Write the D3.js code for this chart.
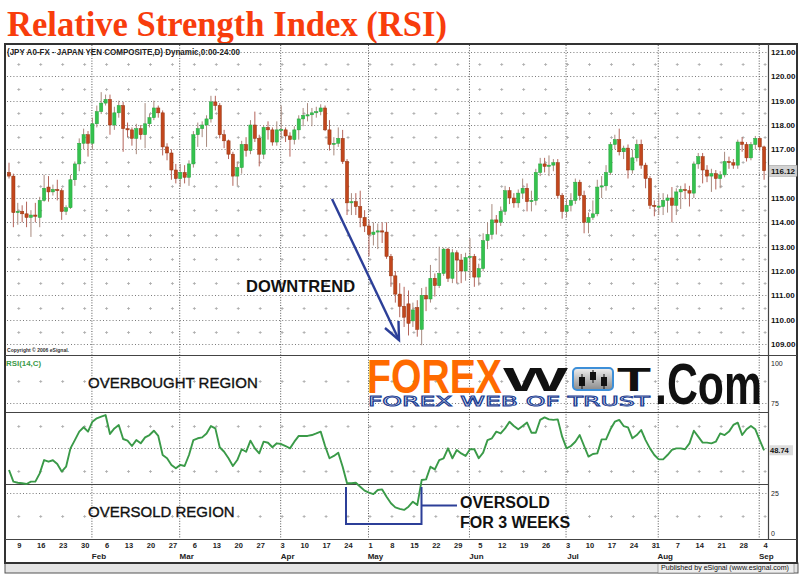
<!DOCTYPE html>
<html>
<head>
<meta charset="utf-8" />
<title>Relative Strength Index (RSI)</title>
<script src="https://d3js.org/d3.v7.min.js"></script>
<style>
  body { margin: 0; background: #fff; }
  svg { display: block; }
  text { font-family: "Liberation Sans", Arial, sans-serif; }
</style>
</head>
<body>
<svg id="chart" width="800" height="575"></svg>
<script>
// JPY daily candles, 5 Jan - 4 Sep 2006
const open = [
  116.05,115.9,114.4,114.45,114.35,114.2,114.3,114.2,114.9,115.45,
  115.25,115.35,115.3,114.45,114.6,115.75,116.4,117.25,117.6,117.25,
  118.05,118.55,118.9,119.05,118.0,118.5,118.8,117.85,117.8,117.45,
  117.85,117.6,118.05,118.3,118.7,118.5,117.1,116.85,116.15,115.8,
  116.05,115.85,116.4,117.6,117.85,118.0,118.25,118.95,118.8,117.6,
  117.35,116.8,115.9,116.25,117.2,116.95,118.0,117.45,116.8,117.9,
  117.8,117.3,117.8,117.8,117.55,117.4,117.8,118.25,118.4,118.42,
  118.5,118.55,118.7,117.8,117.2,117.25,117.45,116.5,114.8,114.85,
  114.65,114.2,113.85,113.5,113.6,113.65,113.6,112.6,111.8,111.05,
  110.55,110.65,109.95,110.5,109.6,111.0,110.85,111.7,111.4,111.9,
  112.9,111.7,112.75,112.45,112.0,112.55,112.6,111.75,112.1,113.25,
  113.5,114.1,114.0,114.45,115.3,115.0,114.8,115.2,115.4,114.85,
  114.9,116.05,116.4,116.3,116.35,116.45,115.1,114.45,114.7,114.9,
  115.65,115.1,114.0,114.2,114.35,115.45,115.5,116.05,117.2,117.4,
  116.9,117.05,116.15,116.65,117.2,116.35,115.8,114.7,114.65,114.65,
  114.9,115.0,114.7,115.25,115.35,115.3,115.2,116.4,116.7,116.15,
  115.9,116.0,115.8,115.95,116.5,116.45,116.35,117.3,117.2,116.65,
  117.2,117.45,117.1
]
const high = [
  116.45,116.0,114.8,114.7,114.85,114.5,114.8,115.05,115.95,115.9,
  115.55,115.75,115.4,114.7,115.95,116.5,117.45,117.85,117.75,118.3,
  118.8,119.35,119.25,119.25,118.75,119.0,118.95,118.1,117.9,118.05,
  118.0,118.9,118.45,119.0,118.8,118.6,117.25,117.0,116.4,116.4,
  116.35,116.55,117.75,118.1,118.15,118.4,119.2,119.2,118.9,117.8,
  117.4,116.9,116.5,117.35,117.5,118.2,118.55,117.6,118.0,118.15,
  117.9,118.15,118.8,117.9,117.7,117.95,118.4,118.7,118.9,118.7,
  118.75,118.85,118.8,118.2,117.5,117.9,117.8,116.6,115.2,115.2,
  115.3,114.5,114.1,114.0,113.95,114.0,114.0,112.7,112.0,111.5,
  111.35,111.2,110.7,110.8,111.3,111.35,112.25,111.9,113.0,112.95,
  112.95,112.9,112.85,112.7,112.75,113.35,112.7,112.3,113.55,114.0,
  114.75,114.3,114.65,115.5,115.45,115.2,115.35,115.8,115.6,115.3,
  116.2,116.65,116.65,116.75,116.6,116.6,115.2,114.95,115.2,115.8,
  115.75,115.3,114.4,114.9,115.75,115.9,116.35,117.3,117.6,117.85,
  117.15,117.2,117.0,117.4,117.4,116.45,115.9,114.9,115.2,115.2,
  115.15,115.45,115.4,115.5,115.6,115.5,116.5,116.85,116.85,116.35,
  116.2,116.15,116.1,116.9,116.7,116.6,117.4,117.5,117.3,117.3,
  117.55,117.5,117.15
]
const low = [
  115.8,113.8,113.9,114.0,113.8,113.4,114.0,113.8,114.85,114.85,
  115.1,114.9,114.1,114.3,114.55,115.5,116.1,117.0,116.7,117.0,
  117.9,118.45,118.8,117.6,117.8,118.3,116.9,117.5,117.15,116.8,
  117.4,117.05,117.9,118.2,118.3,116.75,116.55,115.75,115.6,115.45,
  115.6,115.5,116.25,117.1,117.5,117.1,118.1,118.6,117.45,117.05,
  116.6,115.5,115.5,116.0,116.7,116.8,117.3,116.3,116.6,117.4,
  117.15,117.15,117.45,117.3,116.7,117.2,117.4,117.95,118.15,117.95,
  118.3,118.4,117.75,116.95,116.75,117.1,116.4,114.3,114.3,114.3,
  113.8,113.6,112.6,113.05,112.9,113.15,112.5,111.35,110.7,110.1,
  109.7,109.35,109.7,109.3,108.95,110.35,110.7,110.95,111.3,111.8,
  111.55,111.5,111.5,111.5,111.6,111.7,111.35,111.4,112.0,112.9,
  113.3,113.5,113.85,114.3,114.75,114.6,114.6,115.0,114.45,114.45,
  114.7,115.9,116.05,115.9,116.1,115.0,114.15,114.2,114.45,114.75,
  114.9,113.55,113.55,114.1,114.25,115.0,115.3,115.95,117.0,116.75,
  116.6,115.8,116.0,116.5,116.2,115.4,114.55,114.25,114.3,114.3,
  114.4,114.0,114.3,114.55,114.95,114.65,115.0,116.2,115.6,115.65,
  115.25,115.35,115.4,115.85,116.2,116.2,116.2,116.9,116.5,116.55,
  117.0,116.95,115.75
]
const close = [
  115.9,114.4,114.45,114.35,114.2,114.3,114.25,114.9,115.4,115.25,
  115.35,115.3,114.45,114.6,115.75,116.4,117.25,117.6,117.25,118.05,
  118.55,118.9,119.05,118.0,118.5,118.8,117.85,117.8,117.45,117.85,
  117.6,118.05,118.3,118.7,118.5,117.1,116.85,116.15,115.8,116.05,
  115.85,116.4,117.6,117.85,118.0,118.25,118.95,118.8,117.6,117.35,
  116.8,115.9,116.25,117.2,116.95,118.0,117.45,116.8,117.9,117.8,
  117.3,117.8,117.82,117.55,117.4,117.8,118.25,118.4,118.42,118.5,
  118.55,118.7,117.8,117.2,117.25,117.45,116.5,114.8,114.85,114.65,
  114.2,113.85,113.5,113.6,113.65,113.6,112.6,111.8,111.05,110.55,
  110.1,109.85,110.4,109.6,111.0,110.85,111.7,111.4,111.9,112.9,
  111.7,112.75,112.45,112.0,112.55,112.6,111.75,112.1,113.25,113.5,
  114.1,114.0,114.45,115.3,115.0,114.8,115.2,115.4,114.85,114.9,
  116.05,116.4,116.3,116.35,116.45,115.1,114.45,114.7,114.9,115.65,
  115.1,114.0,114.2,114.35,115.45,115.5,116.05,117.2,117.4,116.9,
  117.05,116.15,116.65,117.2,116.35,115.8,114.7,114.65,114.67,114.9,
  115.0,114.7,115.25,115.35,115.3,115.2,116.4,116.7,116.15,115.9,
  116.0,115.8,115.95,116.5,116.45,116.35,117.3,117.2,116.65,117.2,
  117.45,117.1,116.12
]
// RSI(14,C)
const rsi = [
  37.8,31.3,30.7,30.4,30.0,31.3,31.3,35.9,43.3,42.4,
  43.2,41.1,36.9,39.6,49.8,54.4,59.1,61.5,59.1,64.6,
  66.5,67.4,68.3,57.8,60.9,62.8,55.0,54.1,51.1,54.4,
  52.6,55.9,57.2,59.6,56.7,46.1,44.3,40.6,38.7,40.6,
  40.0,46.1,54.4,55.4,55.9,58.1,62.2,60.9,50.4,47.9,
  44.3,40.0,43.3,49.3,47.9,54.1,49.8,47.0,53.5,52.9,
  50.4,52.6,52.2,51.1,49.8,53.5,56.7,56.7,56.7,57.2,
  58.1,59.1,51.1,44.3,45.6,47.4,39.6,30.4,30.4,30.7,
  28.5,26.3,25.2,24.4,26.7,27.0,22.9,19.3,17.0,16.2,
  15.6,17.4,20.2,18.3,32.2,32.6,39.6,38.1,43.3,44.3,
  49.8,44.3,48.9,47.0,45.6,49.3,49.3,44.3,47.4,54.4,
  55.4,59.1,58.1,60.9,64.6,62.2,60.4,62.2,64.1,58.5,
  58.5,65.6,67.0,65.9,65.6,65.9,56.3,49.8,51.1,53.5,
  57.2,51.1,45.2,46.7,47.0,54.8,54.8,60.4,64.6,65.6,
  62.2,61.5,55.4,57.2,60.0,54.4,49.8,46.1,43.7,43.7,
  46.1,48.9,49.8,49.8,49.3,52.6,59.6,56.3,53.0,53.0,
  52.6,53.5,58.1,57.2,59.1,62.8,64.1,57.2,60.4,62.2,
  60.4,54.4,48.74
]
const priceTicks = [109, 110, 111, 112, 113, 114, 115, 116, 117, 118, 119, 120, 121]
const rsiTicks = [0, 25, 75, 100]
const rsiGrid = [25, 50, 75]
const rsiLevels = [30, 70]

const svg = d3.select('#chart')
const n = close.length

// trading days (weekdays) from the first candle
const tradingDays = d3.timeDay
  .filter((d) => d.getDay() !== 0 && d.getDay() !== 6)
  .range(new Date(2006, 0, 5), new Date(2006, 8, 5))
const mondays = d3.range(n).filter((i) => tradingDays[i].getDay() === 1)
const monthStarts = d3
  .range(1, n)
  .filter((i) => tradingDays[i].getMonth() !== tradingDays[i - 1].getMonth())

const plotL = 6
const plotR = 768
const frameR = 797

const x = d3.scalePoint().domain(d3.range(n)).range([9, 764.1])
const yPrice = d3.scaleLinear().domain([109, 121]).range([344, 52])
const yRsi = d3.scaleLinear().domain([0, 100]).range([538, 358])

// title
svg.append('text')
  .attr('x', 7).attr('y', 36)
  .attr('textLength', 440).attr('lengthAdjust', 'spacingAndGlyphs')
  .style('font-family', '"Liberation Serif", "Times New Roman", serif')
  .style('font-weight', 'bold').style('font-size', '35px')
  .style('fill', '#f83d0c')
  .text('Relative Strength Index (RSI)')

// status bar under frame
svg.append('rect')
  .attr('x', 5).attr('y', 563).attr('width', 793).attr('height', 10)
  .style('fill', '#e4e4e4').style('stroke', '#555').style('stroke-width', 1)
svg.append('rect')
  .attr('x', 658).attr('y', 563).attr('width', 136).attr('height', 10)
  .style('fill', '#eee').style('stroke', '#777').style('stroke-width', 0.6)
svg.append('text')
  .attr('x', 661).attr('y', 570)
  .attr('textLength', 128).attr('lengthAdjust', 'spacingAndGlyphs')
  .style('font-size', '7.5px').style('fill', '#111')
  .text('Published by eSignal (www.esignal.com)')

// grids
const grid = svg.append('g')
const dotted = (y) =>
  grid.append('line')
    .attr('x1', plotL + 1).attr('x2', plotR - 1)
    .attr('y1', y).attr('y2', y)
    .style('stroke', '#7a7a7a').style('stroke-width', 1)
    .style('stroke-dasharray', '1,2.2')
const plus = (xx, y) => {
  grid.append('line').attr('x1', xx - 1.5).attr('x2', xx + 1.5).attr('y1', y).attr('y2', y)
    .style('stroke', '#aaa').style('stroke-width', 0.8)
  grid.append('line').attr('x1', xx).attr('x2', xx).attr('y1', y - 1.5).attr('y2', y + 1.5)
    .style('stroke', '#aaa').style('stroke-width', 0.8)
}
priceTicks.forEach((p) => dotted(Math.round(yPrice(p)) + 0.5))
priceTicks.slice(0, -1).forEach((p) =>
  mondays.forEach((i) => plus(x(i) + 1, Math.round(yPrice(p + 0.5)) + 0.5))
)
rsiGrid.forEach((v) => dotted(Math.round(yRsi(v)) + 0.5))
;[12.5, 37.5, 62.5, 87.5].forEach((v) =>
  mondays.forEach((i) => plus(x(i) + 1, Math.round(yRsi(v)) + 0.5))
)
monthStarts.forEach((i) => {
  grid.append('line')
    .attr('x1', x(i) - 0.5).attr('x2', x(i) - 0.5)
    .attr('y1', 45).attr('y2', 539)
    .style('stroke', '#555').style('stroke-width', 1)
    .style('stroke-dasharray', '1,1.6')
})

// candles
const candles = d3.range(n).map((i) => ({
  i, o: open[i], h: high[i], l: low[i], c: close[i]
}))
const cg = svg.append('g')
cg.selectAll('line.wick')
  .data(candles).enter().append('line')
  .attr('class', 'wick')
  .attr('x1', (d) => x(d.i)).attr('x2', (d) => x(d.i))
  .attr('y1', (d) => yPrice(d.h)).attr('y2', (d) => yPrice(d.l))
  .style('stroke', (d) => (d.c >= d.o ? '#a88a7e' : '#b4645a'))
  .style('stroke-width', 1)
cg.selectAll('rect')
  .data(candles).enter().append('rect')
  .attr('x', (d) => x(d.i) - 1.6)
  .attr('width', 3.2)
  .attr('y', (d) => yPrice(Math.max(d.o, d.c)))
  .attr('height', (d) => Math.max(1.2, Math.abs(yPrice(d.o) - yPrice(d.c))))
  .style('fill', (d) => (d.c >= d.o ? '#34c24e' : '#c2461d'))
  .style('stroke', (d) => (d.c >= d.o ? '#27a23c' : '#93350f'))
  .style('stroke-width', 0.5)

// RSI levels and line
rsiLevels.forEach((v) => {
  svg.append('line')
    .attr('x1', plotL).attr('x2', plotR)
    .attr('y1', Math.round(yRsi(v)) + 0.5).attr('y2', Math.round(yRsi(v)) + 0.5)
    .style('stroke', '#444').style('stroke-width', 1)
})
svg.append('path')
  .datum(rsi)
  .attr('d', d3.line().x((d, i) => x(i)).y((d) => yRsi(d)))
  .style('fill', 'none').style('stroke', '#3a9a48').style('stroke-width', 1.9)
  .style('stroke-linejoin', 'round')

// frame and panel separators
svg.append('rect')
  .attr('x', 5).attr('y', 44).attr('width', 792).attr('height', 519)
  .style('fill', 'none').style('stroke', '#333').style('stroke-width', 2)
svg.append('line').attr('x1', 5).attr('x2', frameR).attr('y1', 355.5).attr('y2', 355.5)
  .style('stroke', '#444').style('stroke-width', 1.2)
svg.append('line').attr('x1', 5).attr('x2', frameR).attr('y1', 539.5).attr('y2', 539.5)
  .style('stroke', '#444').style('stroke-width', 1.2)
svg.append('line').attr('x1', plotR + 0.5).attr('x2', plotR + 0.5).attr('y1', 44).attr('y2', 539)
  .style('stroke', '#444').style('stroke-width', 1.2)

// price axis (the label under the last-price box is hidden, as on eSignal)
const last = close[n - 1]
const pAxis = svg.append('g')
  .attr('transform', `translate(${plotR},0)`)
  .call(d3.axisRight(yPrice).tickValues(priceTicks).tickFormat(d3.format('.2f')).tickSize(0).tickPadding(3))
pAxis.select('.domain').remove()
pAxis.selectAll('text')
  .style('font-family', '"Liberation Sans", Arial, sans-serif')
  .style('font-size', '8px').style('font-weight', 'bold').style('fill', '#111')
pAxis.selectAll('.tick')
  .filter((d) => Math.abs(yPrice(d) - yPrice(last)) < 10)
  .remove()

// last price box
svg.append('rect')
  .attr('x', plotR + 1).attr('y', yPrice(last) - 5.5).attr('width', 28).attr('height', 11)
  .style('fill', '#d2d2d2').style('stroke', '#999').style('stroke-width', 0.5)
svg.append('text')
  .attr('x', plotR + 3).attr('y', yPrice(last) + 3)
  .style('font-size', '8px').style('font-weight', 'bold').style('fill', '#111')
  .text(d3.format('.2f')(last))

// RSI axis
const rAxis = svg.append('g')
  .attr('transform', `translate(${plotR},0)`)
  .call(d3.axisRight(yRsi).tickValues(rsiTicks).tickSize(0).tickPadding(3))
rAxis.select('.domain').remove()
rAxis.selectAll('text')
  .style('font-family', '"Liberation Sans", Arial, sans-serif')
  .style('font-size', '7px').style('fill', '#222')
rAxis.selectAll('.tick').filter((d) => d === 100).select('text').attr('dy', '1.1em')
rAxis.selectAll('.tick').filter((d) => d === 0).select('text').attr('dy', '-0.4em')
const lastRsi = rsi[n - 1]
svg.append('rect')
  .attr('x', plotR + 1).attr('y', yRsi(lastRsi) - 5).attr('width', 24).attr('height', 10)
  .style('fill', '#dcdcdc')
svg.append('text')
  .attr('x', plotR + 2).attr('y', yRsi(lastRsi) + 3)
  .style('font-size', '7.5px').style('font-weight', 'bold').style('fill', '#111')
  .text(lastRsi)

// date axis
const dAxis = svg.append('g')
  .attr('transform', 'translate(1,539)')
  .call(d3.axisBottom(x).tickValues(mondays).tickFormat((i) => tradingDays[i].getDate()).tickSize(0).tickPadding(4))
dAxis.select('.domain').remove()
dAxis.selectAll('text')
  .style('font-family', '"Liberation Sans", Arial, sans-serif')
  .style('font-size', '7.5px').style('font-weight', 'bold').style('fill', '#222')
const mAxis = svg.append('g')
  .attr('transform', 'translate(6,549)')
  .call(d3.axisBottom(x).tickValues(monthStarts).tickFormat((i) => d3.timeFormat('%b')(tradingDays[i])).tickSize(0).tickPadding(4))
mAxis.select('.domain').remove()
mAxis.selectAll('text')
  .style('font-family', '"Liberation Sans", Arial, sans-serif')
  .style('font-size', '8px').style('font-weight', 'bold').style('fill', '#222')

// chart captions
svg.append('text')
  .attr('x', 7).attr('y', 55)
  .attr('textLength', 233).attr('lengthAdjust', 'spacingAndGlyphs')
  .style('font-size', '8.5px').style('font-weight', 'bold').style('fill', '#222')
  .text('(JPY A0-FX - JAPAN YEN COMPOSITE,D) Dynamic,0:00-24:00')
svg.append('text')
  .attr('x', 7).attr('y', 352)
  .attr('textLength', 62).attr('lengthAdjust', 'spacingAndGlyphs')
  .style('font-size', '6px').style('font-weight', 'bold').style('fill', '#333')
  .text('Copyright © 2006 eSignal.')
svg.append('text')
  .attr('x', 6).attr('y', 366)
  .attr('textLength', 35).attr('lengthAdjust', 'spacingAndGlyphs')
  .style('font-size', '8px').style('font-weight', 'bold').style('fill', '#3a9a48')
  .text('RSI(14,C)')

// annotations
const ink = '#2c3f98'
svg.append('line')
  .attr('x1', 332).attr('y1', 199).attr('x2', 399).attr('y2', 340)
  .style('stroke', ink).style('stroke-width', 2.4)
svg.append('path')
  .attr('d', 'M385,328 L399,340 L398.5,321')
  .style('fill', 'none').style('stroke', ink).style('stroke-width', 2.4)
svg.append('text')
  .attr('x', 246).attr('y', 292)
  .style('font-size', '16.5px').style('font-weight', 'bold').style('fill', '#111')
  .text('DOWNTREND')
svg.append('text')
  .attr('x', 88).attr('y', 388)
  .style('font-size', '15px').style('fill', '#111').style('stroke', '#111').style('stroke-width', 0.35)
  .text('OVERBOUGHT REGION')
svg.append('text')
  .attr('x', 88).attr('y', 517)
  .style('font-size', '15px').style('fill', '#111').style('stroke', '#111').style('stroke-width', 0.35)
  .text('OVERSOLD REGION')
svg.append('path')
  .attr('d', 'M346,487 V524 H421.5 V487 M421.5,505.5 H457')
  .style('fill', 'none').style('stroke', ink).style('stroke-width', 2)
svg.append('text')
  .attr('x', 460).attr('y', 508)
  .style('font-size', '16px').style('font-weight', 'bold').style('fill', '#111')
  .text('OVERSOLD')
svg.append('text')
  .attr('x', 460).attr('y', 528)
  .style('font-size', '16px').style('font-weight', 'bold').style('fill', '#111')
  .text('FOR 3 WEEKS')

// FOREXWOT.Com watermark: each word is squeezed to its width with a scale transform
const wm = svg.append('g')
const defs = svg.append('defs')
const grad = defs.append('linearGradient').attr('id', 'iconGrad').attr('x1', 0).attr('x2', 0).attr('y1', 0).attr('y2', 1)
grad.append('stop').attr('offset', '0%').attr('stop-color', '#f0f0f0')
grad.append('stop').attr('offset', '100%').attr('stop-color', '#8a8a8a')

function fitText(str, left, base, width, size, style) {
  const t = wm.append('text')
    .attr('x', 0).attr('y', 0)
    .style('font-size', size + 'px')
    .text(str)
  Object.entries(style).forEach(([k, v]) => t.style(k, v))
  const natural = t.node().getComputedTextLength()
  t.attr('transform', `translate(${left},${base}) scale(${width / natural},1)`)
  return t
}
fitText('FOREX', 367, 393, 135, 49, { 'font-weight': 'bold', fill: '#ff6a00' })
fitText('W', 503, 391, 65, 34, { 'font-weight': 'bold', fill: '#111' })
wm.append('rect')
  .attr('x', 573).attr('y', 368).attr('width', 40).attr('height', 22).attr('rx', 4)
  .style('fill', 'url(#iconGrad)').style('stroke', '#3d8fd8').style('stroke-width', 2)
;[[582, 377, 386, 374, 389], [593, 372, 380, 370, 383], [604, 377, 386, 374, 389]].forEach(([cx, t, b, wt, wb]) => {
  wm.append('line').attr('x1', cx).attr('x2', cx).attr('y1', wt).attr('y2', wb).style('stroke', '#111').style('stroke-width', 1)
  wm.append('rect').attr('x', cx - 3).attr('y', t).attr('width', 6).attr('height', b - t).style('fill', '#111')
})
fitText('T', 617, 391, 34, 34, { 'font-weight': 'bold', fill: '#111' })
fitText('.Com', 655, 404, 107, 58, { 'font-weight': 'bold', fill: '#111' })
fitText('FOREX WEB OF TRUST', 368, 406, 282, 14, {
  'font-family': '"DejaVu Sans", sans-serif',
  fill: '#fff', stroke: '#1d3f94', 'stroke-width': 0.9
})
</script>
</body>
</html>
